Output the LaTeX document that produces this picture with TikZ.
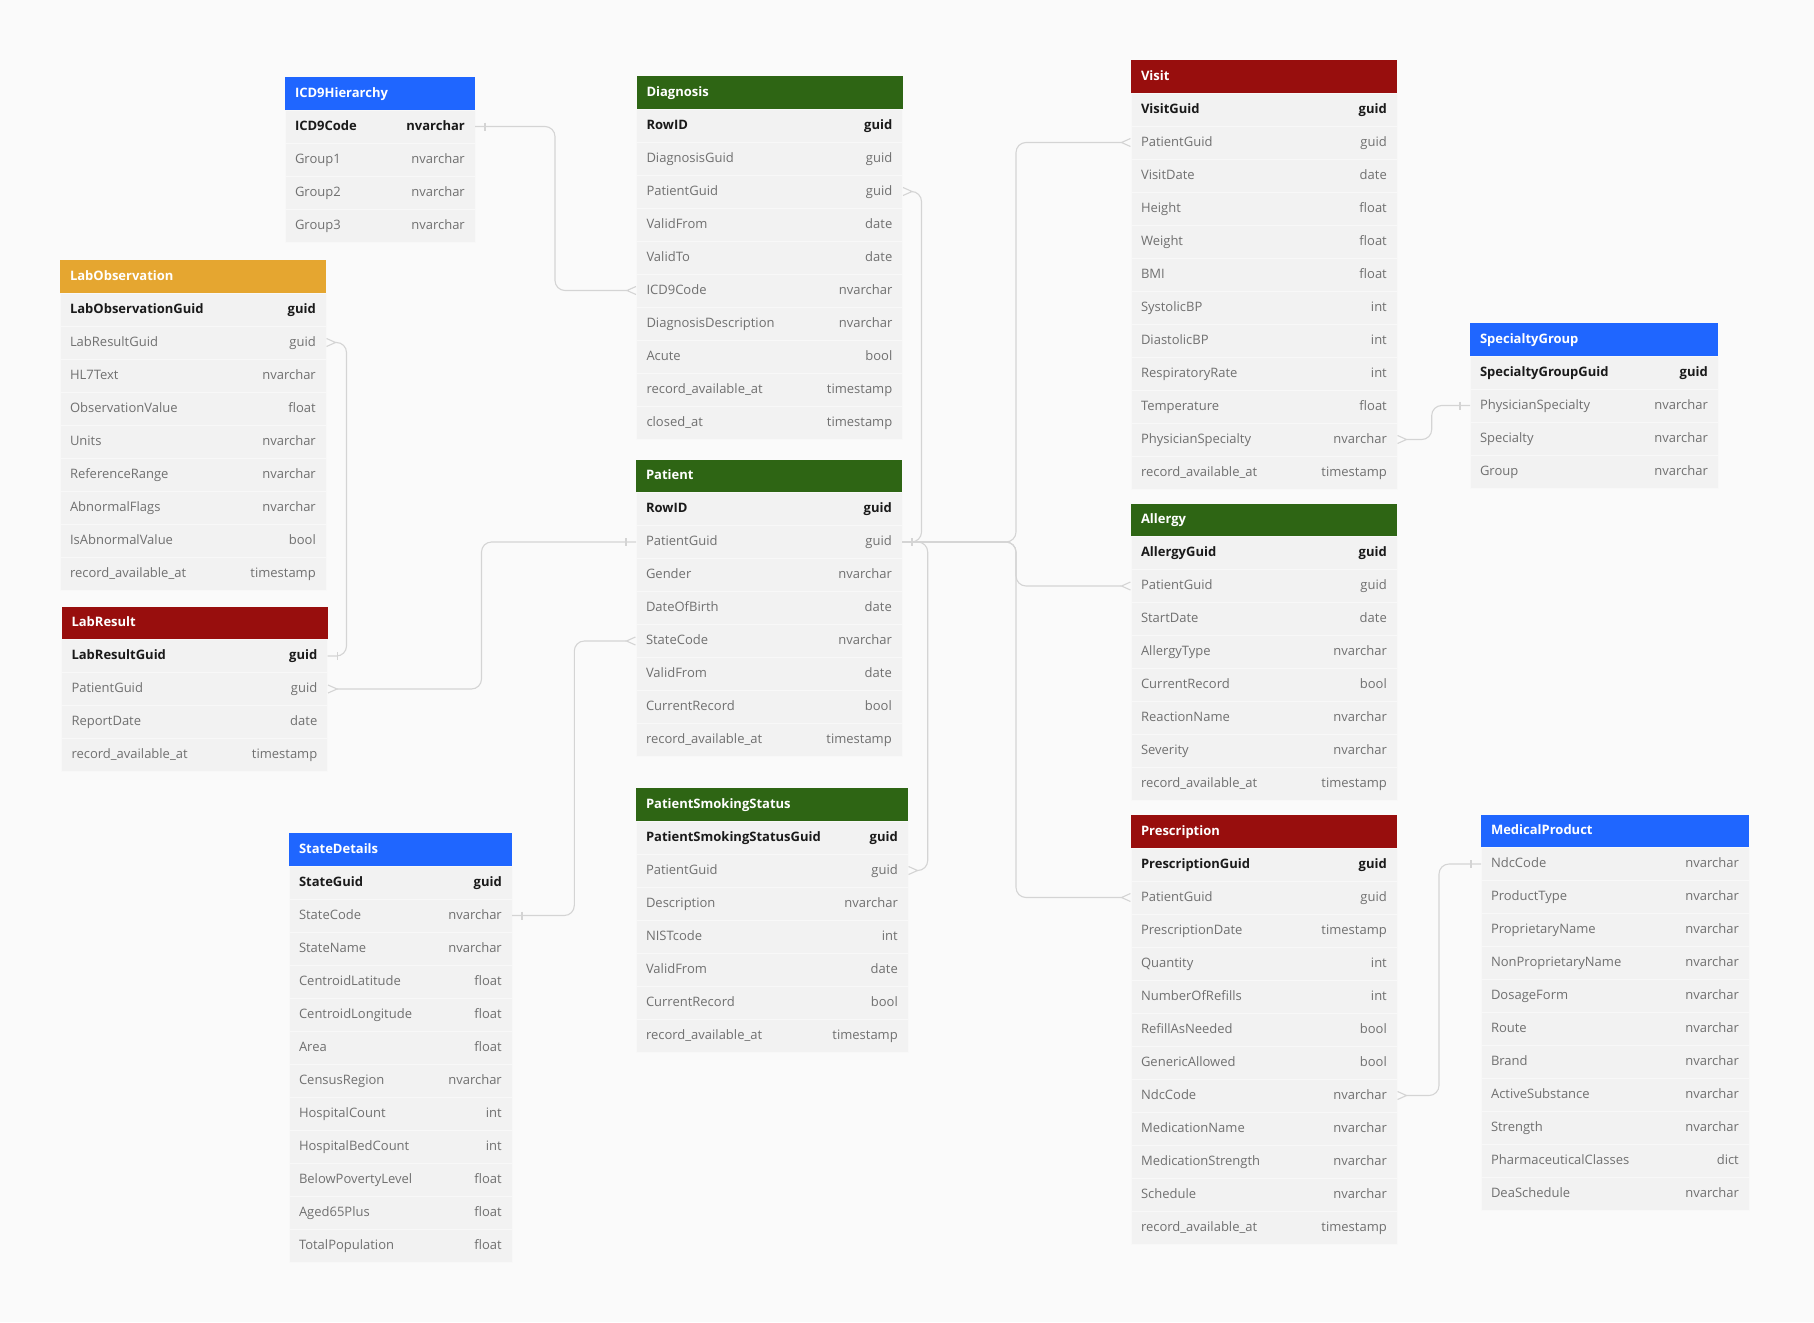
\documentclass[tikz,border=0pt]{standalone}
\usepackage{fontspec}
\setmainfont{Open Sans}
\usetikzlibrary{arrows.meta}
\definecolor{bgcol}{RGB}{250,250,250}
\definecolor{rowfill}{RGB}{242,242,242}
\definecolor{rowline}{RGB}{248,248,248}
\definecolor{fieldtext}{RGB}{112,112,112}
\definecolor{keytext}{RGB}{26,26,26}
\definecolor{linecol}{RGB}{212,212,212}
\definecolor{hblue}{RGB}{31,102,255}
\definecolor{hgreen}{RGB}{46,101,20}
\definecolor{hred}{RGB}{152,14,13}
\definecolor{horange}{RGB}{229,166,48}

\begin{document}
\begin{tikzpicture}[x=1pt,y=-1pt,
	head/.style={anchor=north west,minimum height=33pt,inner xsep=10pt,inner ysep=0pt,outer sep=0pt,text width=#1pt,align=left,text height=10pt,text depth=3pt,text=white,font=\fontsize{13}{15}\selectfont\bfseries},
	field/.style={anchor=north west,fill=rowfill,draw=rowline,line width=0.8pt,minimum height=33pt,inner xsep=10pt,inner ysep=0pt,outer sep=0pt,text width=#1pt,align=left,text height=10pt,text depth=3pt,text=fieldtext,font=\fontsize{13}{15}\selectfont},
	pkrow/.style={field=#1,text=keytext,font=\fontsize{13}{15}\selectfont\bfseries},
	ftype/.style={anchor=east,inner xsep=10pt,inner ysep=0pt,text height=10pt,text depth=3pt,text=fieldtext,font=\fontsize{13}{15}\selectfont},
	pktype/.style={ftype,text=keytext,font=\fontsize{13}{15}\selectfont\bfseries},
	conn/.style={draw=linecol,line width=1.1pt,rounded corners=10pt},
	Crow/.tip={Straight Barb[reversed,length=9pt,width=8pt]}]
		\fill[bgcol] (0,0) rectangle (1814,1322);
		\useasboundingbox (0,0) rectangle (1814,1322);

		% ICD9Hierarchy
		\node[head=170,fill=hblue] (icd0) at (285,77) {ICD9Hierarchy};
		\node[pkrow=170] (icd1) at (285,110) {ICD9Code};
		\node[pktype] at (icd1.east) {nvarchar};
		\node[field=170] (icd2) at (285,143) {Group1};
		\node[ftype] at (icd2.east) {nvarchar};
		\node[field=170] (icd3) at (285,176) {Group2};
		\node[ftype] at (icd3.east) {nvarchar};
		\node[field=170] (icd4) at (285,209) {Group3};
		\node[ftype] at (icd4.east) {nvarchar};

		% Diagnosis
		\node[head=246,fill=hgreen] (diag0) at (636.5,76) {Diagnosis};
		\node[pkrow=246] (diag1) at (636.5,109) {RowID};
		\node[pktype] at (diag1.east) {guid};
		\node[field=246] (diag2) at (636.5,142) {DiagnosisGuid};
		\node[ftype] at (diag2.east) {guid};
		\node[field=246] (diag3) at (636.5,175) {PatientGuid};
		\node[ftype] at (diag3.east) {guid};
		\node[field=246] (diag4) at (636.5,208) {ValidFrom};
		\node[ftype] at (diag4.east) {date};
		\node[field=246] (diag5) at (636.5,241) {ValidTo};
		\node[ftype] at (diag5.east) {date};
		\node[field=246] (diag6) at (636.5,274) {ICD9Code};
		\node[ftype] at (diag6.east) {nvarchar};
		\node[field=246] (diag7) at (636.5,307) {DiagnosisDescription};
		\node[ftype] at (diag7.east) {nvarchar};
		\node[field=246] (diag8) at (636.5,340) {Acute};
		\node[ftype] at (diag8.east) {bool};
		\node[field=246] (diag9) at (636.5,373) {record\_available\_at};
		\node[ftype] at (diag9.east) {timestamp};
		\node[field=246] (diag10) at (636.5,406) {closed\_at};
		\node[ftype] at (diag10.east) {timestamp};

		% Visit
		\node[head=246,fill=hred] (visit0) at (1131,60) {Visit};
		\node[pkrow=246] (visit1) at (1131,93) {VisitGuid};
		\node[pktype] at (visit1.east) {guid};
		\node[field=246] (visit2) at (1131,126) {PatientGuid};
		\node[ftype] at (visit2.east) {guid};
		\node[field=246] (visit3) at (1131,159) {VisitDate};
		\node[ftype] at (visit3.east) {date};
		\node[field=246] (visit4) at (1131,192) {Height};
		\node[ftype] at (visit4.east) {float};
		\node[field=246] (visit5) at (1131,225) {Weight};
		\node[ftype] at (visit5.east) {float};
		\node[field=246] (visit6) at (1131,258) {BMI};
		\node[ftype] at (visit6.east) {float};
		\node[field=246] (visit7) at (1131,291) {SystolicBP};
		\node[ftype] at (visit7.east) {int};
		\node[field=246] (visit8) at (1131,324) {DiastolicBP};
		\node[ftype] at (visit8.east) {int};
		\node[field=246] (visit9) at (1131,357) {RespiratoryRate};
		\node[ftype] at (visit9.east) {int};
		\node[field=246] (visit10) at (1131,390) {Temperature};
		\node[ftype] at (visit10.east) {float};
		\node[field=246] (visit11) at (1131,423) {PhysicianSpecialty};
		\node[ftype] at (visit11.east) {nvarchar};
		\node[field=246] (visit12) at (1131,456) {record\_available\_at};
		\node[ftype] at (visit12.east) {timestamp};

		% LabObservation
		\node[head=246,fill=horange] (labobs0) at (60,260) {LabObservation};
		\node[pkrow=246] (labobs1) at (60,293) {LabObservationGuid};
		\node[pktype] at (labobs1.east) {guid};
		\node[field=246] (labobs2) at (60,326) {LabResultGuid};
		\node[ftype] at (labobs2.east) {guid};
		\node[field=246] (labobs3) at (60,359) {HL7Text};
		\node[ftype] at (labobs3.east) {nvarchar};
		\node[field=246] (labobs4) at (60,392) {ObservationValue};
		\node[ftype] at (labobs4.east) {float};
		\node[field=246] (labobs5) at (60,425) {Units};
		\node[ftype] at (labobs5.east) {nvarchar};
		\node[field=246] (labobs6) at (60,458) {ReferenceRange};
		\node[ftype] at (labobs6.east) {nvarchar};
		\node[field=246] (labobs7) at (60,491) {AbnormalFlags};
		\node[ftype] at (labobs7.east) {nvarchar};
		\node[field=246] (labobs8) at (60,524) {IsAbnormalValue};
		\node[ftype] at (labobs8.east) {bool};
		\node[field=246] (labobs9) at (60,557) {record\_available\_at};
		\node[ftype] at (labobs9.east) {timestamp};

		% LabResult
		\node[head=246,fill=hred] (labres0) at (61.5,606.5) {LabResult};
		\node[pkrow=246] (labres1) at (61.5,639.5) {LabResultGuid};
		\node[pktype] at (labres1.east) {guid};
		\node[field=246] (labres2) at (61.5,672.5) {PatientGuid};
		\node[ftype] at (labres2.east) {guid};
		\node[field=246] (labres3) at (61.5,705.5) {ReportDate};
		\node[ftype] at (labres3.east) {date};
		\node[field=246] (labres4) at (61.5,738.5) {record\_available\_at};
		\node[ftype] at (labres4.east) {timestamp};

		% Patient
		\node[head=246,fill=hgreen] (pat0) at (636,459.5) {Patient};
		\node[pkrow=246] (pat1) at (636,492.5) {RowID};
		\node[pktype] at (pat1.east) {guid};
		\node[field=246] (pat2) at (636,525.5) {PatientGuid};
		\node[ftype] at (pat2.east) {guid};
		\node[field=246] (pat3) at (636,558.5) {Gender};
		\node[ftype] at (pat3.east) {nvarchar};
		\node[field=246] (pat4) at (636,591.5) {DateOfBirth};
		\node[ftype] at (pat4.east) {date};
		\node[field=246] (pat5) at (636,624.5) {StateCode};
		\node[ftype] at (pat5.east) {nvarchar};
		\node[field=246] (pat6) at (636,657.5) {ValidFrom};
		\node[ftype] at (pat6.east) {date};
		\node[field=246] (pat7) at (636,690.5) {CurrentRecord};
		\node[ftype] at (pat7.east) {bool};
		\node[field=246] (pat8) at (636,723.5) {record\_available\_at};
		\node[ftype] at (pat8.east) {timestamp};

		% PatientSmokingStatus
		\node[head=252,fill=hgreen] (smok0) at (636,788) {PatientSmokingStatus};
		\node[pkrow=252] (smok1) at (636,821) {PatientSmokingStatusGuid};
		\node[pktype] at (smok1.east) {guid};
		\node[field=252] (smok2) at (636,854) {PatientGuid};
		\node[ftype] at (smok2.east) {guid};
		\node[field=252] (smok3) at (636,887) {Description};
		\node[ftype] at (smok3.east) {nvarchar};
		\node[field=252] (smok4) at (636,920) {NISTcode};
		\node[ftype] at (smok4.east) {int};
		\node[field=252] (smok5) at (636,953) {ValidFrom};
		\node[ftype] at (smok5.east) {date};
		\node[field=252] (smok6) at (636,986) {CurrentRecord};
		\node[ftype] at (smok6.east) {bool};
		\node[field=252] (smok7) at (636,1019) {record\_available\_at};
		\node[ftype] at (smok7.east) {timestamp};

		% StateDetails
		\node[head=203,fill=hblue] (state0) at (289,833) {StateDetails};
		\node[pkrow=203] (state1) at (289,866) {StateGuid};
		\node[pktype] at (state1.east) {guid};
		\node[field=203] (state2) at (289,899) {StateCode};
		\node[ftype] at (state2.east) {nvarchar};
		\node[field=203] (state3) at (289,932) {StateName};
		\node[ftype] at (state3.east) {nvarchar};
		\node[field=203] (state4) at (289,965) {CentroidLatitude};
		\node[ftype] at (state4.east) {float};
		\node[field=203] (state5) at (289,998) {CentroidLongitude};
		\node[ftype] at (state5.east) {float};
		\node[field=203] (state6) at (289,1031) {Area};
		\node[ftype] at (state6.east) {float};
		\node[field=203] (state7) at (289,1064) {CensusRegion};
		\node[ftype] at (state7.east) {nvarchar};
		\node[field=203] (state8) at (289,1097) {HospitalCount};
		\node[ftype] at (state8.east) {int};
		\node[field=203] (state9) at (289,1130) {HospitalBedCount};
		\node[ftype] at (state9.east) {int};
		\node[field=203] (state10) at (289,1163) {BelowPovertyLevel};
		\node[ftype] at (state10.east) {float};
		\node[field=203] (state11) at (289,1196) {Aged65Plus};
		\node[ftype] at (state11.east) {float};
		\node[field=203] (state12) at (289,1229) {TotalPopulation};
		\node[ftype] at (state12.east) {float};

		% SpecialtyGroup
		\node[head=228,fill=hblue] (spec0) at (1470,323) {SpecialtyGroup};
		\node[pkrow=228] (spec1) at (1470,356) {SpecialtyGroupGuid};
		\node[pktype] at (spec1.east) {guid};
		\node[field=228] (spec2) at (1470,389) {PhysicianSpecialty};
		\node[ftype] at (spec2.east) {nvarchar};
		\node[field=228] (spec3) at (1470,422) {Specialty};
		\node[ftype] at (spec3.east) {nvarchar};
		\node[field=228] (spec4) at (1470,455) {Group};
		\node[ftype] at (spec4.east) {nvarchar};

		% Allergy
		\node[head=246,fill=hgreen] (allergy0) at (1131,503.5) {Allergy};
		\node[pkrow=246] (allergy1) at (1131,536.5) {AllergyGuid};
		\node[pktype] at (allergy1.east) {guid};
		\node[field=246] (allergy2) at (1131,569.5) {PatientGuid};
		\node[ftype] at (allergy2.east) {guid};
		\node[field=246] (allergy3) at (1131,602.5) {StartDate};
		\node[ftype] at (allergy3.east) {date};
		\node[field=246] (allergy4) at (1131,635.5) {AllergyType};
		\node[ftype] at (allergy4.east) {nvarchar};
		\node[field=246] (allergy5) at (1131,668.5) {CurrentRecord};
		\node[ftype] at (allergy5.east) {bool};
		\node[field=246] (allergy6) at (1131,701.5) {ReactionName};
		\node[ftype] at (allergy6.east) {nvarchar};
		\node[field=246] (allergy7) at (1131,734.5) {Severity};
		\node[ftype] at (allergy7.east) {nvarchar};
		\node[field=246] (allergy8) at (1131,767.5) {record\_available\_at};
		\node[ftype] at (allergy8.east) {timestamp};

		% Prescription
		\node[head=246,fill=hred] (presc0) at (1131,815) {Prescription};
		\node[pkrow=246] (presc1) at (1131,848) {PrescriptionGuid};
		\node[pktype] at (presc1.east) {guid};
		\node[field=246] (presc2) at (1131,881) {PatientGuid};
		\node[ftype] at (presc2.east) {guid};
		\node[field=246] (presc3) at (1131,914) {PrescriptionDate};
		\node[ftype] at (presc3.east) {timestamp};
		\node[field=246] (presc4) at (1131,947) {Quantity};
		\node[ftype] at (presc4.east) {int};
		\node[field=246] (presc5) at (1131,980) {NumberOfRefills};
		\node[ftype] at (presc5.east) {int};
		\node[field=246] (presc6) at (1131,1013) {RefillAsNeeded};
		\node[ftype] at (presc6.east) {bool};
		\node[field=246] (presc7) at (1131,1046) {GenericAllowed};
		\node[ftype] at (presc7.east) {bool};
		\node[field=246] (presc8) at (1131,1079) {NdcCode};
		\node[ftype] at (presc8.east) {nvarchar};
		\node[field=246] (presc9) at (1131,1112) {MedicationName};
		\node[ftype] at (presc9.east) {nvarchar};
		\node[field=246] (presc10) at (1131,1145) {MedicationStrength};
		\node[ftype] at (presc10.east) {nvarchar};
		\node[field=246] (presc11) at (1131,1178) {Schedule};
		\node[ftype] at (presc11.east) {nvarchar};
		\node[field=246] (presc12) at (1131,1211) {record\_available\_at};
		\node[ftype] at (presc12.east) {timestamp};

		% MedicalProduct
		\node[head=248,fill=hblue] (med0) at (1481,814.5) {MedicalProduct};
		\node[field=248] (med1) at (1481,847.5) {NdcCode};
		\node[ftype] at (med1.east) {nvarchar};
		\node[field=248] (med2) at (1481,880.5) {ProductType};
		\node[ftype] at (med2.east) {nvarchar};
		\node[field=248] (med3) at (1481,913.5) {ProprietaryName};
		\node[ftype] at (med3.east) {nvarchar};
		\node[field=248] (med4) at (1481,946.5) {NonProprietaryName};
		\node[ftype] at (med4.east) {nvarchar};
		\node[field=248] (med5) at (1481,979.5) {DosageForm};
		\node[ftype] at (med5.east) {nvarchar};
		\node[field=248] (med6) at (1481,1012.5) {Route};
		\node[ftype] at (med6.east) {nvarchar};
		\node[field=248] (med7) at (1481,1045.5) {Brand};
		\node[ftype] at (med7.east) {nvarchar};
		\node[field=248] (med8) at (1481,1078.5) {ActiveSubstance};
		\node[ftype] at (med8.east) {nvarchar};
		\node[field=248] (med9) at (1481,1111.5) {Strength};
		\node[ftype] at (med9.east) {nvarchar};
		\node[field=248] (med10) at (1481,1144.5) {PharmaceuticalClasses};
		\node[ftype] at (med10.east) {dict};
		\node[field=248] (med11) at (1481,1177.5) {DeaSchedule};
		\node[ftype] at (med11.east) {nvarchar};

		% relations
		\draw[conn,-Crow] (icd1.east) -- ++(80,0) |- (diag6.west);
		\draw[conn,Crow-] (diag3.east) -- ++(19,0) |- (pat2.east);
		\draw[conn,-Crow] (pat2.east) -- ++(114,0) |- (visit2.west);
		\draw[conn,-Crow] (pat2.east) -- ++(114,0) |- (allergy2.west);
		\draw[conn,-Crow] (pat2.east) -- ++(114,0) |- (presc2.west);
		\draw[conn,-Crow] (pat2.east) -- ++(25.7,0) |- (smok2.east);
		\draw[conn,-Crow] (pat2.west) -- ++(-154.5,0) |- (labres2.east);
		\draw[conn,-Crow] (labres1.east) -- ++(19,0) |- (labobs2.east);
		\draw[conn,-Crow] (state2.east) -- ++(62.3,0) |- (pat5.west);
		\draw[conn,Crow-] (visit11.east) -- ++(34.7,0) |- (spec2.west);
		\draw[conn,Crow-] (presc8.east) -- ++(42,0) |- (med1.west);

		% one-side ticks
		\draw[conn] ([xshift=10pt]icd1.east) ++(0,-4) -- ++(0,8);
		\draw[conn] ([xshift=10pt]pat2.east) ++(0,-4) -- ++(0,8);
		\draw[conn] ([xshift=-10pt]pat2.west) ++(0,-4) -- ++(0,8);
		\draw[conn] ([xshift=10pt]labres1.east) ++(0,-4) -- ++(0,8);
		\draw[conn] ([xshift=10pt]state2.east) ++(0,-4) -- ++(0,8);
		\draw[conn] ([xshift=-10pt]spec2.west) ++(0,-4) -- ++(0,8);
		\draw[conn] ([xshift=-10pt]med1.west) ++(0,-4) -- ++(0,8);
	\end{tikzpicture}
\end{document}
